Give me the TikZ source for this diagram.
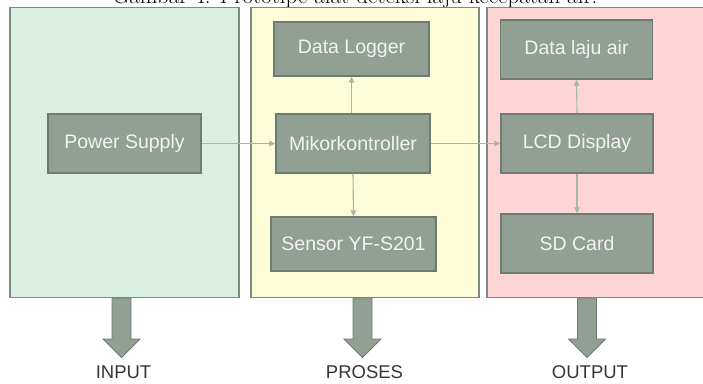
\documentclass[tikz,border=0pt]{standalone}
\usepackage{fontspec}
\setsansfont{Liberation Sans}
\usetikzlibrary{arrows.meta}
\definecolor{boxfill}{HTML}{919F94}
\definecolor{boxline}{HTML}{6D7B70}
\definecolor{boxtext}{HTML}{F3F3EF}
\definecolor{panelline}{HTML}{7D8A80}
\definecolor{inpanel}{HTML}{D8EFE2}
\definecolor{procpanel}{HTML}{FDFCD8}
\definecolor{outpanel}{HTML}{FDD5D5}
\definecolor{linkcol}{HTML}{A6B6AB}
\definecolor{labelcol}{HTML}{363636}
\tikzset{
  panel/.style={draw=panelline, line width=1.4pt},
  block/.style={draw=boxline, fill=boxfill, line width=1.4pt, text=boxtext,
    font=\sffamily\fontsize{19.5}{22}\selectfont, inner sep=0pt},
  link/.style={draw=linkcol, line width=1.1pt, -{Triangle[length=6pt,width=5.5pt]}},
  bigarrow/.style={fill=boxfill, draw=boxline, line width=0.8pt, line join=miter},
  stage/.style={text=labelcol, font=\sffamily\fontsize{18.5}{20}\selectfont, inner sep=0pt}
}
\begin{document}
\begin{tikzpicture}[x=1pt, y=-1pt]
\useasboundingbox (0,0) rectangle (703,383);
\clip (0,0) rectangle (703,383);

% caption line, mostly above the page edge
\node[anchor=base, inner sep=0pt, font=\fontsize{23}{26}\selectfont] (caption) at (355,3.5)
  {Gambar 4. Prototipe alat deteksi laju kecepatan air.};

% three stage panels
\draw[panel, fill=inpanel]   (10,7.5) rectangle (239,297.5);
\draw[panel, fill=procpanel] (251,7.5) rectangle (479,297.5);
\draw[panel, fill=outpanel]  (487,7.5) rectangle (712,297.5);

% blocks
\node[block, minimum width=153pt, minimum height=59pt] (psu)  at (124.5,143.5) {Power Supply};
\node[block, minimum width=154pt, minimum height=59pt] (mcu)  at (353,143.5) {Mikorkontroller};
\node[block, minimum width=155pt, minimum height=54pt] (log)  at (351.5,49) {Data Logger};
\node[block, minimum width=165pt, minimum height=54pt] (sens) at (353.5,244) {Sensor YF-S201};
\node[block, minimum width=152pt, minimum height=59pt] (rate) at (576.5,49.5) {Data laju air};
\node[block, minimum width=152pt, minimum height=59pt] (lcd)  at (577,143.5) {LCD Display};
\node[block, minimum width=152pt, minimum height=59pt] (sd)   at (577,243.5) {SD Card};

% connectors
\draw[link] (psu.east) -- (mcu.west);
\draw[link] (mcu.east) -- (lcd.west);
\draw[link] (mcu.north -| log.south) -- (log.south);
\draw[link] (mcu.south) -- (sens.north);
\draw[link] (lcd.north) -- (rate.south);
\draw[link] (lcd.south) -- (sd.north);

% block arrows under the panels
\foreach \cx/\nm in {121.5/inarrow, 362.5/procarrow, 587/outarrow}{
  \draw[bigarrow] (\cx-9.5,298) -- (\cx+9.5,298) -- (\cx+9.5,339) -- (\cx+18.5,339)
    -- (\cx,357.5) -- (\cx-18.5,339) -- (\cx-9.5,339) -- cycle;
}

% stage labels
\node[stage] (lin)   at (123.5,372) {INPUT};
\node[stage] (lproc) at (364.5,372) {PROSES};
\node[stage] (lout)  at (590,372) {OUTPUT};
\end{tikzpicture}
\end{document}
